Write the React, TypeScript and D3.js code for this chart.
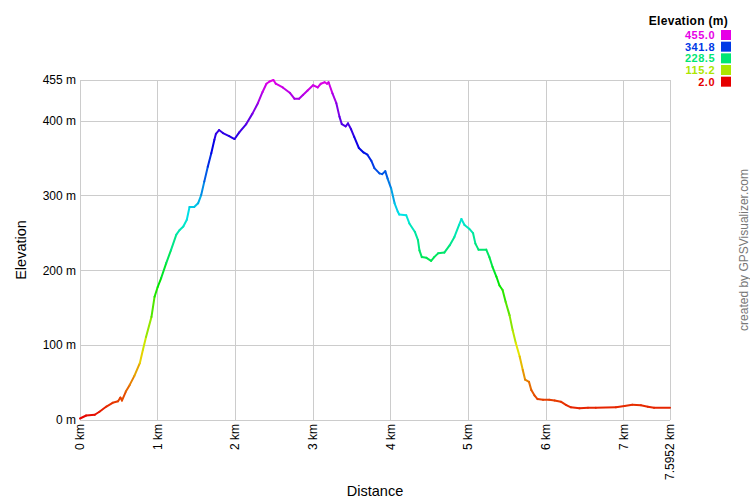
import React from "react";
import * as d3 from "d3";

const distKm = [
  0, 0.08, 0.19, 0.25, 0.34, 0.42, 0.49, 0.52, 0.54, 0.59,
  0.64, 0.70, 0.77, 0.81, 0.85, 0.92, 0.96, 1.0, 1.045, 1.11,
  1.17, 1.24, 1.28, 1.33, 1.375, 1.41, 1.47, 1.52, 1.56, 1.60,
  1.645, 1.69, 1.73, 1.75, 1.79, 1.84, 1.92, 1.99, 2.05, 2.14,
  2.22, 2.29, 2.35, 2.40, 2.44, 2.49, 2.52, 2.61, 2.70, 2.76,
  2.82, 2.87, 2.93, 3.00, 3.06, 3.10, 3.15, 3.18, 3.20, 3.25,
  3.30, 3.34, 3.37, 3.42, 3.45, 3.49, 3.53, 3.59, 3.65, 3.70,
  3.75, 3.79, 3.855, 3.89, 3.93, 3.96, 4.005, 4.05, 4.09, 4.11,
  4.20, 4.24, 4.31, 4.35, 4.37, 4.40, 4.46, 4.52, 4.56, 4.61,
  4.69, 4.76, 4.82, 4.88, 4.91, 4.95, 5.01, 5.06, 5.09, 5.13,
  5.23, 5.27, 5.31, 5.36, 5.40, 5.44, 5.48, 5.53, 5.57, 5.61,
  5.66, 5.70, 5.73, 5.78, 5.81, 5.85, 5.89, 5.96, 6.04, 6.11,
  6.19, 6.26, 6.32, 6.43, 6.54, 6.64, 6.90, 7.01, 7.11, 7.22,
  7.31, 7.39, 7.5952,
];

const elevM = [
  2, 6, 7, 11, 18, 23, 25, 30, 26, 38,
  47, 59, 76, 94, 111, 138, 165, 178, 190, 210,
  227, 248, 254, 259, 268, 285, 285, 290, 301, 319,
  339, 357, 375, 383, 388, 384, 380, 376, 385, 396,
  410, 424, 439, 450, 453, 455, 450, 445, 438, 430,
  430, 435, 441, 448, 445, 450, 452, 450, 452, 437,
  424, 406, 396, 393, 397, 389, 379, 364, 358, 355,
  347, 337, 330, 329, 333, 323, 310, 290, 279, 275,
  274, 263, 252, 241, 227, 218, 217, 213, 218, 223,
  224, 234, 245, 261, 269, 261, 256, 250, 236, 228,
  228, 218, 205, 192, 180, 174, 158, 140, 120, 103,
  85, 67, 54, 51, 40, 33, 28, 27, 27, 26,
  24.5, 20, 17, 15.6, 16.5, 16.5, 17, 18.7, 20.5, 19.7,
  17.8, 16.5, 16.5,
];

const xTicks = [0, 1, 2, 3, 4, 5, 6, 7, 7.5952];
const xTickLabels = ["0 km", "1 km", "2 km", "3 km", "4 km", "5 km", "6 km", "7 km", "7.5952 km"];
const yTicks = [0, 100, 200, 300, 400, 455];
const yTickLabels = ["0 m", "100 m", "200 m", "300 m", "400 m", "455 m"];
const legendValues = [455.0, 341.8, 228.5, 115.2, 2.0];
const legendLabels = ["455.0", "341.8", "228.5", "115.2", "2.0"];

const FONT = "'Liberation Sans', Arial, Helvetica, sans-serif";

export default function App() {
  const W = 750;
  const H = 500;
  const left = 80;
  const right = 670;
  const top = 80;
  const bottom = 420;

  const x = d3.scaleLinear().domain([0, 7.5952]).range([left, right]);
  const y = d3.scaleLinear().domain([0, 455]).range([bottom, top]);
  const hue = d3.scaleLinear().domain([2, 455]).range([0, 300]).clamp(true);
  const colorOf = (v: number) => d3.hsl(hue(v), 1, 0.45).formatHex();

  const line = d3.line<[number, number]>().x((d) => x(d[0])).y((d) => y(d[1]));

  const segs = [] as { d: string; c: string }[];
  for (let i = 0; i < distKm.length - 1; i++) {
    const p: [number, number][] = [
      [distKm[i], elevM[i]],
      [distKm[i + 1], elevM[i + 1]],
    ];
    segs.push({ d: line(p) || "", c: colorOf((elevM[i] + elevM[i + 1]) / 2) });
  }

  const grid = "#cccccc";

  return (
    <svg
      width={W}
      height={H}
      style={{ position: "absolute", left: 0, top: 0, background: "#fff" }}
      fontFamily={FONT}
    >
      <rect x={0} y={0} width={W} height={H} fill="#fff" />
      {yTicks.map((t) => (
        <line key={"h" + t} x1={left} x2={right} y1={y(t)} y2={y(t)} stroke={grid} strokeWidth={1} shapeRendering="crispEdges" />
      ))}
      {xTicks.map((t) => (
        <line key={"v" + t} x1={x(t)} x2={x(t)} y1={top} y2={bottom} stroke={grid} strokeWidth={1} shapeRendering="crispEdges" />
      ))}
      {yTicks.map((t, i) => (
        <text key={"yl" + t} x={left - 4} y={y(t)} dy="0.35em" textAnchor="end" fontSize={12} fill="#000">
          {yTickLabels[i]}
        </text>
      ))}
      {xTicks.map((t, i) => (
        <text
          key={"xl" + t}
          transform={`translate(${x(t) + 4},${bottom + 4}) rotate(-90)`}
          textAnchor="end"
          fontSize={12}
          fill="#000"
        >
          {xTickLabels[i]}
        </text>
      ))}
      {segs.map((s, i) => (
        <path key={"s" + i} d={s.d} stroke={s.c} strokeWidth={2} fill="none" strokeLinecap="round" strokeLinejoin="round" />
      ))}
      <text transform={`translate(26,${(top + bottom) / 2}) rotate(-90)`} textAnchor="middle" fontSize={14.5} fill="#000">
        Elevation
      </text>
      <text x={(left + right) / 2} y={496} textAnchor="middle" fontSize={14.5} fill="#000">
        Distance
      </text>
      <text x={728} y={25} textAnchor="end" fontSize={12} fontWeight="bold" fill="#000" letterSpacing={0.3}>
        Elevation (m)
      </text>
      {legendValues.map((v, i) => (
        <g key={"lg" + i}>
          <text x={715} y={35 + i * 11.67} dy="0.36em" textAnchor="end" fontSize={11} fontWeight="bold" fill={colorOf(v)} letterSpacing={0.5}>
            {legendLabels[i]}
          </text>
          <rect x={721} y={30 + i * 11.67} width={10} height={10} fill={colorOf(v)} />
        </g>
      ))}
      <text transform={`translate(748,250) rotate(-90)`} textAnchor="middle" fontSize={12} fill="#777">
        created by GPSVisualizer.com
      </text>
    </svg>
  );
}
